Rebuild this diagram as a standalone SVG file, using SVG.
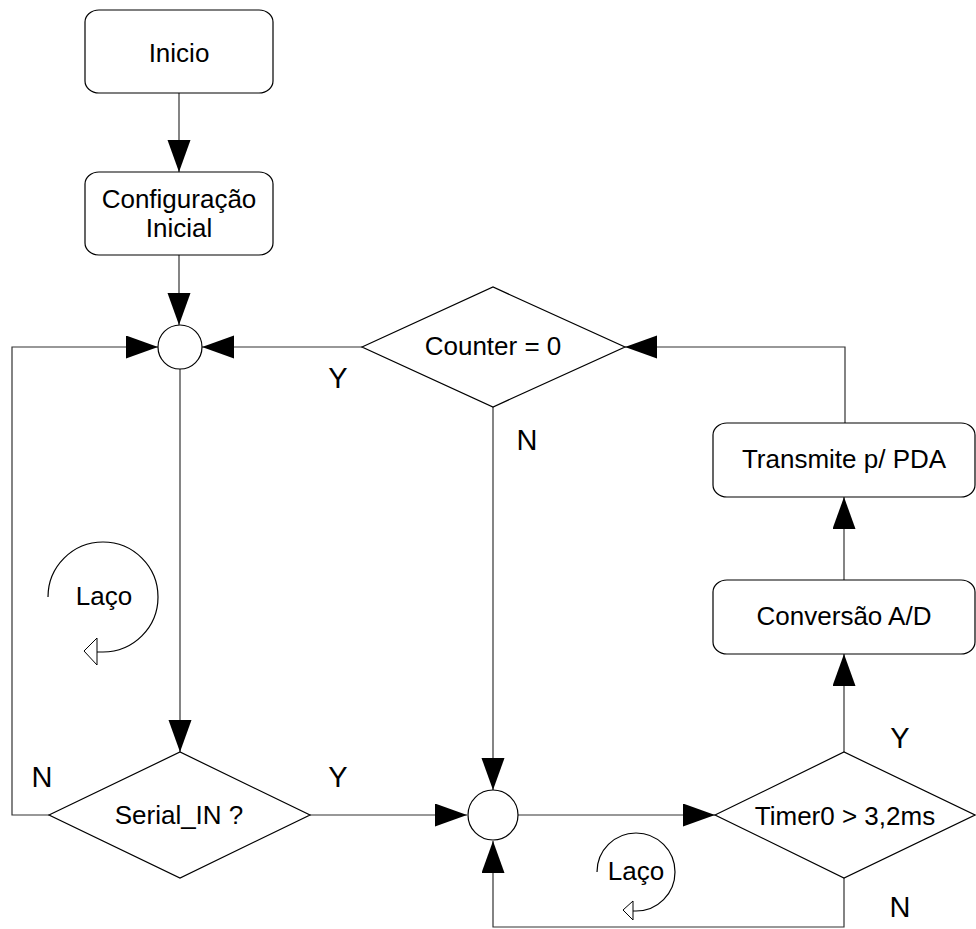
<svg xmlns="http://www.w3.org/2000/svg" width="976" height="929" viewBox="0 0 976 929">
<style>
  .box { fill: #fff; stroke: #000; stroke-width: 1.2; }
  .txt { font-family: "Liberation Sans", Arial, sans-serif; font-size: 26px; fill: #000; text-anchor: middle; }
  .lbl { font-family: "Liberation Sans", Arial, sans-serif; font-size: 29px; fill: #000; text-anchor: middle; }
  .con { fill: none; stroke: #333; stroke-width: 1.2; }
  .loop { fill: none; stroke: #000; stroke-width: 1.2; }
  .hollow { fill: #fff; stroke: #000; stroke-width: 1; }
</style>
<defs>
  <marker id="ah" markerUnits="userSpaceOnUse" markerWidth="33" markerHeight="24" refX="32" refY="11.5" orient="auto">
    <path d="M0,0 L32,11.5 L0,23 z" fill="#000"/>
  </marker>
</defs>
<rect width="976" height="929" fill="#fff"/>

<g id="connectors">
  <path class="con" d="M179,93 V172" marker-end="url(#ah)"/>
  <path class="con" d="M179,255 V325" marker-end="url(#ah)"/>
  <path class="con" d="M180,369 V752" marker-end="url(#ah)"/>
  <path class="con" d="M49,815 H12 V347 H158" marker-end="url(#ah)"/>
  <path class="con" d="M362,347 H202" marker-end="url(#ah)"/>
  <path class="con" d="M493,407 V790" marker-end="url(#ah)"/>
  <path class="con" d="M310,815 H467" marker-end="url(#ah)"/>
  <path class="con" d="M518,815 H715" marker-end="url(#ah)"/>
  <path class="con" d="M844,878 V927 H493 V841" marker-end="url(#ah)"/>
  <path class="con" d="M844,752 V654" marker-end="url(#ah)"/>
  <path class="con" d="M844,580 V497" marker-end="url(#ah)"/>
  <path class="con" d="M845,423 V347 H625" marker-end="url(#ah)"/>
</g>

<g id="inicio">
  <rect class="box" x="85" y="10" width="188" height="83" rx="14" ry="12"/>
  <text class="txt" x="179" y="62">Inicio</text>
</g>
<g id="config">
  <rect class="box" x="85" y="172" width="188" height="83" rx="14" ry="12"/>
  <text class="txt" x="179" y="208">Configuração</text>
  <text class="txt" x="179" y="237">Inicial</text>
</g>
<g id="junction1">
  <circle class="box" cx="180" cy="347" r="22"/>
</g>
<g id="counter">
  <polygon class="box" points="362,347 493,287 625,347 493,407"/>
  <text class="txt" x="493" y="355">Counter = 0</text>
</g>
<g id="transmite">
  <rect class="box" x="713" y="423" width="262" height="74" rx="14" ry="12"/>
  <text class="txt" x="844" y="468">Transmite p/ PDA</text>
</g>
<g id="conversao">
  <rect class="box" x="713" y="580" width="262" height="74" rx="14" ry="12"/>
  <text class="txt" x="844" y="625">Conversão A/D</text>
</g>
<g id="serial">
  <polygon class="box" points="49,815 180,752 310,815 180,878"/>
  <text class="txt" x="179" y="824">Serial_IN ?</text>
</g>
<g id="junction2">
  <circle class="box" cx="493" cy="815" r="25"/>
</g>
<g id="timer">
  <polygon class="box" points="715,815 844,752 975,815 844,878"/>
  <text class="txt" x="845" y="825">Timer0 &gt; 3,2ms</text>
</g>

<g id="labels">
  <text class="lbl" x="338" y="388">Y</text>
  <text class="lbl" x="527" y="450">N</text>
  <text class="lbl" x="42" y="787">N</text>
  <text class="lbl" x="338" y="787">Y</text>
  <text class="lbl" x="900" y="748">Y</text>
  <text class="lbl" x="900" y="917">N</text>
</g>

<g id="laco1">
  <path class="loop" d="M48,597 A55,55 0 1 1 103,652 L97,652"/>
  <polygon class="hollow" points="84,651 97,638 97,665"/>
  <text class="txt" x="104" y="605">Laço</text>
</g>
<g id="laco2">
  <path class="loop" d="M597,872 A39,39 0 1 1 636,911 L633,911"/>
  <polygon class="hollow" points="623,910 633,901 633,920"/>
  <text class="txt" x="636" y="880">Laço</text>
</g>
</svg>
